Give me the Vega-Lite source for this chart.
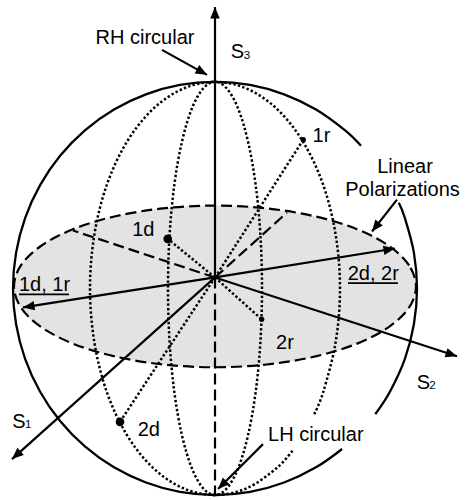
{
  "$schema": "https://vega.github.io/schema/vega-lite/v6.json",
  "width": 466,
  "height": 500,
  "padding": 0,
  "autosize": {"type": "fit", "contains": "padding"},
  "background": "white",
  "config": {"view": {"stroke": null}},
  "datasets": {
    "fill": [
      {"x": -201, "y": 2, "yb": 2},
      {"x": -199.3, "y": 12.6, "yb": -8.6},
      {"x": -194.1, "y": 23.0, "yb": -19.0},
      {"x": -174.1, "y": 42.5, "yb": -38.5},
      {"x": -142.1, "y": 59.3, "yb": -55.3},
      {"x": -100.5, "y": 72.1, "yb": -68.1},
      {"x": -52.0, "y": 80.2, "yb": -76.2},
      {"x": 0, "y": 83, "yb": -79},
      {"x": 52.0, "y": 80.2, "yb": -76.2},
      {"x": 100.5, "y": 72.1, "yb": -68.1},
      {"x": 142.1, "y": 59.3, "yb": -55.3},
      {"x": 174.1, "y": 42.5, "yb": -38.5},
      {"x": 194.1, "y": 23.0, "yb": -19.0},
      {"x": 199.3, "y": 12.6, "yb": -8.6},
      {"x": 201, "y": 2, "yb": 2}
    ],
    "curves": [
      {"c": "eq", "i": 0, "x": 201, "y": 2},
      {"c": "eq", "i": 1, "x": 194.1, "y": 23.0},
      {"c": "eq", "i": 2, "x": 174.1, "y": 42.5},
      {"c": "eq", "i": 3, "x": 142.1, "y": 59.3},
      {"c": "eq", "i": 4, "x": 100.5, "y": 72.1},
      {"c": "eq", "i": 5, "x": 52.0, "y": 80.2},
      {"c": "eq", "i": 6, "x": 0, "y": 83},
      {"c": "eq", "i": 7, "x": -52.0, "y": 80.2},
      {"c": "eq", "i": 8, "x": -100.5, "y": 72.1},
      {"c": "eq", "i": 9, "x": -142.1, "y": 59.3},
      {"c": "eq", "i": 10, "x": -174.1, "y": 42.5},
      {"c": "eq", "i": 11, "x": -194.1, "y": 23.0},
      {"c": "eq", "i": 12, "x": -201, "y": 2},
      {"c": "eq", "i": 13, "x": -194.1, "y": -19.0},
      {"c": "eq", "i": 14, "x": -174.1, "y": -38.5},
      {"c": "eq", "i": 15, "x": -142.1, "y": -55.3},
      {"c": "eq", "i": 16, "x": -100.5, "y": -68.1},
      {"c": "eq", "i": 17, "x": -52.0, "y": -76.2},
      {"c": "eq", "i": 18, "x": 0, "y": -79},
      {"c": "eq", "i": 19, "x": 52.0, "y": -76.2},
      {"c": "eq", "i": 20, "x": 100.5, "y": -68.1},
      {"c": "eq", "i": 21, "x": 142.1, "y": -55.3},
      {"c": "eq", "i": 22, "x": 174.1, "y": -38.5},
      {"c": "eq", "i": 23, "x": 194.1, "y": -19.0},

      {"c": "inner", "i": 0, "x": 47, "y": 0},
      {"c": "inner", "i": 1, "x": 45.4, "y": 53.6},
      {"c": "inner", "i": 2, "x": 40.7, "y": 103.5},
      {"c": "inner", "i": 3, "x": 33.2, "y": 146.4},
      {"c": "inner", "i": 4, "x": 23.5, "y": 179.3},
      {"c": "inner", "i": 5, "x": 12.2, "y": 199.9},
      {"c": "inner", "i": 6, "x": 0, "y": 207},
      {"c": "inner", "i": 7, "x": -12.2, "y": 199.9},
      {"c": "inner", "i": 8, "x": -23.5, "y": 179.3},
      {"c": "inner", "i": 9, "x": -33.2, "y": 146.4},
      {"c": "inner", "i": 10, "x": -40.7, "y": 103.5},
      {"c": "inner", "i": 11, "x": -45.4, "y": 53.6},
      {"c": "inner", "i": 12, "x": -47, "y": 0},
      {"c": "inner", "i": 13, "x": -45.4, "y": -53.6},
      {"c": "inner", "i": 14, "x": -40.7, "y": -103.5},
      {"c": "inner", "i": 15, "x": -33.2, "y": -146.4},
      {"c": "inner", "i": 16, "x": -23.5, "y": -179.3},
      {"c": "inner", "i": 17, "x": -12.2, "y": -199.9},
      {"c": "inner", "i": 18, "x": 0, "y": -207},
      {"c": "inner", "i": 19, "x": 12.2, "y": -199.9},
      {"c": "inner", "i": 20, "x": 23.5, "y": -179.3},
      {"c": "inner", "i": 21, "x": 33.2, "y": -146.4},
      {"c": "inner", "i": 22, "x": 40.7, "y": -103.5},
      {"c": "inner", "i": 23, "x": 45.4, "y": -53.6},

      {"c": "outer", "i": 0, "x": 99.2, "y": -126.0},
      {"c": "outer", "i": 1, "x": 108.3, "y": -103.5},
      {"c": "outer", "i": 2, "x": 120.7, "y": -53.6},
      {"c": "outer", "i": 3, "x": 125, "y": 0},
      {"c": "outer", "i": 4, "x": 120.7, "y": 53.6},
      {"c": "outer", "i": 5, "x": 108.3, "y": 103.5},
      {"c": "outer", "i": 6, "x": 88.4, "y": 146.4},
      {"c": "outer", "i": 7, "x": 62.5, "y": 179.3},
      {"c": "outer", "i": 8, "x": 32.4, "y": 199.9},
      {"c": "outer", "i": 9, "x": 0, "y": 207},
      {"c": "outer", "i": 10, "x": -32.4, "y": 199.9},
      {"c": "outer", "i": 11, "x": -62.5, "y": 179.3},
      {"c": "outer", "i": 12, "x": -88.4, "y": 146.4},
      {"c": "outer", "i": 13, "x": -108.3, "y": 103.5},
      {"c": "outer", "i": 14, "x": -120.7, "y": 53.6},
      {"c": "outer", "i": 15, "x": -125, "y": 0},
      {"c": "outer", "i": 16, "x": -120.7, "y": -53.6},
      {"c": "outer", "i": 17, "x": -108.3, "y": -103.5},
      {"c": "outer", "i": 18, "x": -88.4, "y": -146.4},
      {"c": "outer", "i": 19, "x": -62.5, "y": -179.3},
      {"c": "outer", "i": 20, "x": -32.4, "y": -199.9},
      {"c": "outer", "i": 21, "x": 0, "y": -207},
      {"c": "outer", "i": 22, "x": 32.4, "y": -199.9},
      {"c": "outer", "i": 23, "x": 62.5, "y": -179.3},
      {"c": "outer", "i": 24, "x": 78.7, "y": -160.9},

      {"c": "sA", "i": 0, "x": 146.0, "y": 143.0},
      {"c": "sA", "i": 1, "x": 129.8, "y": 158.6},
      {"c": "sA", "i": 2, "x": 101.0, "y": 179.3},
      {"c": "sA", "i": 3, "x": 69.1, "y": 194.5},
      {"c": "sA", "i": 4, "x": 35.1, "y": 203.9},
      {"c": "sA", "i": 5, "x": 0, "y": 207},
      {"c": "sA", "i": 6, "x": -35.1, "y": 203.9},
      {"c": "sA", "i": 7, "x": -69.1, "y": 194.5},
      {"c": "sA", "i": 8, "x": -101.0, "y": 179.3},
      {"c": "sA", "i": 9, "x": -129.8, "y": 158.6},
      {"c": "sA", "i": 10, "x": -154.7, "y": 133.1},
      {"c": "sA", "i": 11, "x": -174.9, "y": 103.5},
      {"c": "sA", "i": 12, "x": -189.8, "y": 70.8},
      {"c": "sA", "i": 13, "x": -198.9, "y": 35.9},
      {"c": "sA", "i": 14, "x": -202, "y": 0},
      {"c": "sA", "i": 15, "x": -198.9, "y": -35.9},
      {"c": "sA", "i": 16, "x": -189.8, "y": -70.8},
      {"c": "sA", "i": 17, "x": -174.9, "y": -103.5},
      {"c": "sA", "i": 18, "x": -154.7, "y": -133.1},
      {"c": "sA", "i": 19, "x": -129.8, "y": -158.6},
      {"c": "sA", "i": 20, "x": -101.0, "y": -179.3},
      {"c": "sA", "i": 21, "x": -69.1, "y": -194.5},
      {"c": "sA", "i": 22, "x": -35.1, "y": -203.9},
      {"c": "sA", "i": 23, "x": 0, "y": -207},
      {"c": "sA", "i": 24, "x": 35.1, "y": -203.9},
      {"c": "sA", "i": 25, "x": 69.1, "y": -194.5},
      {"c": "sA", "i": 26, "x": 101.0, "y": -179.3},
      {"c": "sA", "i": 27, "x": 127.1, "y": -160.9},

      {"c": "sB", "i": 0, "x": 160.3, "y": -126.0},
      {"c": "sB", "i": 1, "x": 174.9, "y": -103.5},
      {"c": "sB", "i": 2, "x": 189.8, "y": -70.8},
      {"c": "sB", "i": 3, "x": 198.9, "y": -35.9},
      {"c": "sB", "i": 4, "x": 202, "y": 0},
      {"c": "sB", "i": 5, "x": 198.9, "y": 35.9},
      {"c": "sB", "i": 6, "x": 189.8, "y": 70.8},
      {"c": "sB", "i": 7, "x": 183.8, "y": 85.8}
    ],
    "segments": [
      {"k": "axis", "x": 0, "y": 11, "x2": 0, "y2": 282},
      {"k": "axis", "x": 0, "y": 11, "x2": -203, "y2": -171},
      {"k": "axis", "x": 0, "y": 11, "x2": 242, "y2": -68},
      {"k": "axis", "x": 0, "y": 11, "x2": -192, "y2": -19},
      {"k": "axis", "x": 0, "y": 11, "x2": 180, "y2": 40},
      {"k": "pointer", "x": -53, "y": 239, "x2": -8, "y2": 214},
      {"k": "pointer", "x": 48, "y": -156, "x2": 3, "y2": -201},
      {"k": "pointer", "x": 182, "y": 89, "x2": 157, "y2": 57},
      {"k": "hidden", "x": 0, "y": 11, "x2": 0, "y2": -207},
      {"k": "hidden", "x": 0, "y": 11, "x2": 72, "y2": 76},
      {"k": "hidden", "x": 0, "y": 11, "x2": -142, "y2": 58},
      {"k": "ray", "x": 0, "y": 11, "x2": -47.3, "y2": 49.7},
      {"k": "ray", "x": 0, "y": 11, "x2": 88.3, "y2": 149},
      {"k": "ray", "x": 0, "y": 11, "x2": 46.7, "y2": -31},
      {"k": "ray", "x": 0, "y": 11, "x2": -95, "y2": -133.7},
      {"k": "underline", "x": -196, "y": -6, "x2": -146, "y2": -6},
      {"k": "underline", "x": 133, "y": 5.3, "x2": 183, "y2": 5.3}
    ],
    "dots": [
      {"n": "1d", "x": -47.3, "y": 49.7},
      {"n": "2d", "x": -95, "y": -133.7},
      {"n": "1r", "x": 88.3, "y": 149},
      {"n": "2r", "x": 46.7, "y": -31}
    ],
    "heads": [
      {"n": "S3", "x": 0, "y": 282, "dir": 0},
      {"n": "S1", "x": -203, "y": -171, "dir": 228.1},
      {"n": "S2", "x": 242, "y": -68, "dir": 108.1},
      {"n": "1d1r", "x": -192, "y": -19, "dir": 261.1},
      {"n": "2d2r", "x": 180, "y": 40, "dir": 80.8},
      {"n": "RH", "x": -8, "y": 214, "dir": 119.1},
      {"n": "LH", "x": 3, "y": -201, "dir": 225},
      {"n": "LP", "x": 157, "y": 57, "dir": 218}
    ],
    "labels": [
      {"k": "main", "t": "RH circular", "x": -70, "y": 245},
      {"k": "main", "t": "S", "x": 22.5, "y": 231},
      {"k": "sub", "t": "3", "x": 32, "y": 230},
      {"k": "main", "t": "Linear", "x": 190, "y": 116},
      {"k": "main", "t": "Polarizations", "x": 187.5, "y": 92.3},
      {"k": "main", "t": "1r", "x": 106.5, "y": 147},
      {"k": "main", "t": "1d", "x": -71.7, "y": 52.3},
      {"k": "main", "t": "1d, 1r", "x": -170.5, "y": -3},
      {"k": "main", "t": "2d, 2r", "x": 158.3, "y": 8},
      {"k": "main", "t": "2r", "x": 70, "y": -60.3},
      {"k": "main", "t": "2d", "x": -66.2, "y": -147.7},
      {"k": "main", "t": "S", "x": -196.2, "y": -140},
      {"k": "sub", "t": "1", "x": -186.7, "y": -140},
      {"k": "main", "t": "S", "x": 208.3, "y": -101},
      {"k": "sub", "t": "2", "x": 217.5, "y": -101},
      {"k": "main", "t": "LH circular", "x": 100.8, "y": -152.7}
    ]
  },
  "encoding": {
    "x": {"field": "x", "type": "quantitative", "scale": {"domain": [-215, 251], "nice": false, "zero": false}, "axis": null},
    "y": {"field": "y", "type": "quantitative", "scale": {"domain": [-211, 289], "nice": false, "zero": false}, "axis": null}
  },
  "layer": [
    {
      "data": {"name": "fill"},
      "mark": {"type": "area", "interpolate": "monotone", "color": "#e3e3e3", "opacity": 1},
      "encoding": {"y2": {"field": "yb"}}
    },
    {
      "data": {"name": "curves"},
      "transform": [{"filter": {"field": "c", "equal": "eq"}}],
      "mark": {"type": "line", "interpolate": "cardinal-closed", "color": "black", "strokeWidth": 2.2, "strokeDash": [11, 5]},
      "encoding": {"order": {"field": "i", "type": "quantitative"}}
    },
    {
      "data": {"name": "curves"},
      "transform": [{"filter": {"field": "c", "equal": "inner"}}],
      "mark": {"type": "line", "interpolate": "cardinal-closed", "color": "black", "strokeWidth": 2.5, "strokeDash": [2.4, 2.2]},
      "encoding": {"order": {"field": "i", "type": "quantitative"}}
    },
    {
      "data": {"name": "curves"},
      "transform": [{"filter": {"field": "c", "equal": "outer"}}],
      "mark": {"type": "line", "interpolate": "cardinal", "color": "black", "strokeWidth": 2.5, "strokeDash": [2.4, 2.2]},
      "encoding": {"order": {"field": "i", "type": "quantitative"}}
    },
    {
      "data": {"name": "curves"},
      "transform": [{"filter": {"field": "c", "oneOf": ["sA", "sB"]}}],
      "mark": {"type": "line", "interpolate": "cardinal", "color": "black", "strokeWidth": 2.3},
      "encoding": {"order": {"field": "i", "type": "quantitative"}, "detail": {"field": "c"}}
    },
    {
      "data": {"name": "segments"},
      "transform": [{"filter": {"field": "k", "equal": "hidden"}}],
      "mark": {"type": "rule", "color": "black", "strokeWidth": 2.2, "strokeDash": [11, 5]},
      "encoding": {"x2": {"field": "x2"}, "y2": {"field": "y2"}}
    },
    {
      "data": {"name": "segments"},
      "transform": [{"filter": {"field": "k", "equal": "ray"}}],
      "mark": {"type": "rule", "color": "black", "strokeWidth": 2.5, "strokeDash": [2.4, 2.2]},
      "encoding": {"x2": {"field": "x2"}, "y2": {"field": "y2"}}
    },
    {
      "data": {"name": "segments"},
      "transform": [{"filter": {"field": "k", "oneOf": ["axis", "pointer"]}}],
      "mark": {"type": "rule", "color": "black", "strokeWidth": 2.2},
      "encoding": {"x2": {"field": "x2"}, "y2": {"field": "y2"}}
    },
    {
      "data": {"name": "segments"},
      "transform": [{"filter": {"field": "k", "equal": "underline"}}],
      "mark": {"type": "rule", "color": "black", "strokeWidth": 1.6},
      "encoding": {"x2": {"field": "x2"}, "y2": {"field": "y2"}}
    },
    {
      "data": {"name": "dots"},
      "transform": [{"filter": {"field": "n", "oneOf": ["1d", "2d"]}}],
      "mark": {"type": "point", "shape": "circle", "filled": true, "color": "black", "opacity": 1, "size": 75}
    },
    {
      "data": {"name": "dots"},
      "transform": [{"filter": {"field": "n", "oneOf": ["1r", "2r"]}}],
      "mark": {"type": "point", "shape": "circle", "filled": true, "color": "black", "opacity": 1, "size": 28}
    },
    {
      "data": {"name": "heads"},
      "mark": {"type": "point", "shape": "M0,0L-0.95,2.3L0.95,2.3Z", "filled": true, "color": "black", "opacity": 1, "size": 100},
      "encoding": {"angle": {"field": "dir", "type": "quantitative", "scale": null}}
    },
    {
      "data": {"name": "labels"},
      "transform": [{"filter": {"field": "k", "equal": "main"}}],
      "mark": {"type": "text", "font": "Liberation Sans", "fontSize": 20, "align": "center", "baseline": "alphabetic", "color": "black"},
      "encoding": {"text": {"field": "t"}}
    },
    {
      "data": {"name": "labels"},
      "transform": [{"filter": {"field": "k", "equal": "sub"}}],
      "mark": {"type": "text", "font": "Liberation Sans", "fontSize": 11.5, "align": "center", "baseline": "alphabetic", "color": "black"},
      "encoding": {"text": {"field": "t"}}
    }
  ]
}
